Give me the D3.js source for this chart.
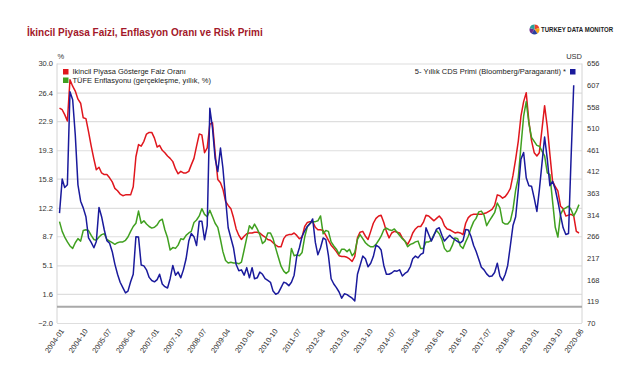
<!DOCTYPE html>
<html>
<head>
<meta charset="utf-8">
<script src="https://cdn.jsdelivr.net/npm/d3@7"></script>
<style>
	body { margin: 0; background: #fff; }
	svg { font-family: "Liberation Sans", Arial, sans-serif; }
</style>
</head>
<body>
<svg id="chart-plot" width="638" height="389" viewBox="0 0 638 389"></svg>
<script>

// monthly series, 2004-01 .. 2020-06
const start_month = new Date(2004, 0, 1);

// Ikincil Piyasa Gösterge Faiz Oranı (%)
const faiz = [
	24.5, 24.3, 23.7, 22.9, 28.0, 27.2, 26.6, 25.6, 25.1, 23.3,
	23.2, 21.6, 19.8, 18.2, 16.9, 17.2, 16.5, 16.3, 16.3, 15.9,
	15.4, 14.6, 14.3, 13.9, 13.7, 13.8, 13.8, 13.8, 14.8, 18.5,
	20.0, 19.8, 20.4, 21.3, 21.5, 21.5, 20.8, 19.7, 19.9, 19.3,
	19.0, 18.6, 18.3, 17.9, 17.0, 16.4, 16.7, 16.5, 16.5, 16.7,
	17.5, 18.3, 19.8, 21.3, 21.2, 19.0, 19.6, 22.5, 22.7, 19.0,
	15.7, 15.3, 14.5, 13.0, 12.5, 12.1, 11.0, 9.6, 8.8, 8.3,
	8.7, 9.0, 9.1, 9.1, 9.2, 9.2, 9.1, 8.8, 8.6, 8.3,
	8.2, 7.9, 7.6, 7.4, 7.4, 8.4, 8.8, 8.9, 8.9, 9.1,
	8.8, 8.4, 8.6, 9.9, 10.4, 10.5, 10.5, 9.8, 9.5, 9.5,
	9.4, 8.8, 8.2, 7.6, 7.2, 6.8, 6.3, 6.2, 6.2, 6.1,
	5.9, 5.6, 6.2, 8.5, 9.2, 9.3, 8.7, 8.3, 9.3, 10.3,
	10.9, 11.2, 11.3, 10.4, 9.3, 8.5, 9.1, 9.3, 9.2, 9.1,
	8.5, 8.1, 7.7, 8.3, 9.1, 9.6, 9.9, 9.9, 10.4, 11.3,
	11.2, 10.9, 10.6, 10.9, 11.2, 10.8, 10.0, 9.6, 9.5, 9.3,
	9.1, 9.2, 9.1, 8.9, 10.3, 11.0, 11.3, 11.4, 11.4, 11.4,
	11.4, 11.5, 11.6, 11.8, 12.0, 12.5, 13.8, 13.7, 13.4, 13.6,
	14.0, 14.6, 16.2, 18.2, 20.4, 23.5, 25.3, 26.4, 22.8, 20.5,
	19.0, 18.6, 19.0, 21.9, 24.8, 22.2, 18.8, 15.5, 14.8, 14.3,
	12.4, 12.1, 11.2, 11.3, 11.4, 11.2, 9.3, 9.1
];

// TÜFE Enflasyonu (gerçekleşme, yıllık, %)
const tufe = [
	10.5, 9.3, 8.6, 8.0, 7.5, 7.2, 7.9, 8.4, 8.1, 9.4,
	9.5, 9.4, 8.8, 8.3, 8.2, 8.6, 8.9, 9.0, 8.3, 8.1,
	7.9, 7.7, 7.9, 8.0, 8.0, 8.2, 8.6, 9.3, 9.9, 10.3,
	11.8, 10.3, 10.6, 10.2, 9.9, 9.7, 9.8, 10.1, 10.6, 10.8,
	9.5, 8.5, 7.0, 7.3, 7.2, 7.6, 8.4, 8.3, 8.8, 9.1,
	9.3, 10.4, 10.7, 11.2, 12.1, 11.4, 11.1, 11.9, 11.1, 10.3,
	9.8, 8.3, 6.8, 5.7, 5.4, 5.5, 5.4, 5.4, 5.3, 5.5,
	7.0, 8.5, 10.0, 9.6, 10.2, 9.6, 8.9, 7.8, 8.1, 9.1,
	9.1, 8.4, 7.2, 6.1, 5.0, 4.4, 4.1, 4.4, 7.2, 6.3,
	6.4, 6.3, 6.7, 8.6, 9.9, 10.3, 10.5, 10.5, 10.6, 11.2,
	9.0, 9.4, 9.3, 8.0, 7.5, 7.1, 6.5, 7.1, 7.1, 6.8,
	7.1, 6.3, 6.7, 8.3, 8.9, 8.4, 7.9, 7.6, 7.4, 7.4,
	7.7, 8.2, 8.7, 9.5, 9.7, 9.5, 9.4, 9.6, 9.2, 8.8,
	8.4, 8.1, 7.4, 7.7, 7.8, 8.0, 8.1, 7.2, 7.2, 8.0,
	8.0, 8.2, 8.9, 9.4, 9.0, 8.3, 7.2, 6.8, 6.9, 7.6,
	8.5, 8.4, 7.5, 7.2, 8.0, 8.7, 9.7, 10.5, 10.9, 11.7,
	11.8, 11.3, 10.0, 10.6, 11.1, 11.6, 12.8, 12.2, 10.4, 10.2,
	10.2, 10.6, 12.0, 14.4, 15.9, 19.8, 23.5, 25.3, 22.6, 20.9,
	20.4, 19.9, 19.8, 19.2, 18.6, 16.5, 16.3, 13.0, 9.8, 8.6,
	11.4, 12.0, 12.2, 12.4, 12.0, 11.2, 11.8, 12.6
];

// 5- Yıllık CDS Primi (USD), ends 2020-04
const cds = [
	318, 395, 376, 382, 592, 574, 495, 382, 345, 330,
	310, 262, 252, 240, 254, 331, 310, 280, 256, 250,
	231, 203, 180, 162, 150, 138, 142, 163, 180, 265,
	264, 201, 199, 190, 173, 166, 163, 168, 180, 158,
	152, 149, 170, 200, 178, 185, 172, 190, 215, 255,
	272, 265, 245, 300, 300, 258, 290, 555, 510, 442,
	412, 465, 420, 350, 285, 262, 240, 202, 188, 190,
	178, 195, 172, 195, 170, 172, 185, 180, 170, 166,
	162, 142, 135, 138, 150, 162, 160, 154, 162, 178,
	220, 240, 266, 278, 288, 294, 305, 252, 224, 240,
	262, 258, 222, 170, 158, 150, 140, 126, 136, 134,
	130, 126, 120, 180, 200, 221, 215, 197, 205, 220,
	246, 242, 235, 200, 180, 180, 183, 188, 187, 190,
	176, 182, 186, 197, 215, 221, 217, 225, 228, 285,
	270, 255, 268, 282, 285, 268, 255, 262, 268, 262,
	258, 254, 251, 256, 281, 280, 266, 245, 232, 214,
	196, 190, 181, 175, 176, 184, 205, 176, 166, 180,
	200, 245, 290, 310, 370, 440, 455, 398, 380, 379,
	352, 322, 370, 431, 490, 440, 380, 390, 372, 345,
	313, 285, 270, 272, 440, 607
];

const x_tick_labels = ["2004-01", "2004-10", "2005-07", "2006-04", "2007-01", "2007-10", "2008-07",
	"2009-04", "2010-01", "2010-10", "2011-07", "2012-04", "2013-01", "2013-10", "2014-07", "2015-04",
	"2016-01", "2016-10", "2017-07", "2018-04", "2019-01", "2019-10", "2020-06"];
const left_ticks = [-2.0, 1.6, 5.1, 8.7, 12.2, 15.8, 19.3, 22.9, 26.4, 30.0];
const right_ticks = [70, 119, 168, 217, 266, 314, 363, 412, 461, 510, 558, 607, 656];

const series = [
	{ name: "Ikincil Piyasa Gösterge Faiz Oranı", values: faiz, color: "#e0161d", axis: "left" },
	{ name: "TÜFE Enflasyonu (gerçekleşme, yıllık, %)", values: tufe, color: "#40a020", axis: "left" },
	{ name: "5- Yıllık CDS Primi (Bloomberg/Paragaranti) *", values: cds, color: "#1a1a9c", axis: "right" }
];

class ChartPlot {
	constructor(svg_element_id) {
		this.svg = d3.select('#' + svg_element_id);

		const plot = { left: 57, right: 582, top: 63.5, bottom: 323 };
		const label_color = "#333";
		const font_size = "7.5px";

		const month_of = i => d3.timeMonth.offset(start_month, i);

		const x = d3.scaleTime()
			.domain([month_of(0), month_of(faiz.length - 1)])
			.range([59.5, 579]);
		const y_left = d3.scaleLinear().domain([-2, 30]).range([plot.bottom, plot.top]);
		const y_right = d3.scaleLinear().domain([70, 656]).range([plot.bottom, plot.top]);

		// title
		this.svg.append("text")
			.attr("x", 27).attr("y", 35.5)
			.attr("font-size", "10px").attr("font-weight", "bold")
			.attr("fill", "#a3182a")
			.text("İkincil Piyasa Faizi, Enflasyon Oranı ve Risk Primi");

		// logo
		const logo = this.svg.append("g").attr("transform", "translate(534.5,29.5)");
		const pie = d3.pie().sort(null)([1, 1, 1, 1, 1]);
		const arc = d3.arc().innerRadius(0).outerRadius(5);
		const logo_colors = ["#e8412c", "#f2a516", "#2a3f9d", "#6a2c91", "#2aa198"];
		logo.selectAll("path").data(pie).enter().append("path")
			.attr("d", arc).attr("fill", (d, i) => logo_colors[i]);
		this.svg.append("text")
			.attr("x", 541).attr("y", 32.3)
			.attr("font-size", "6.6px").attr("font-weight", "bold")
			.attr("fill", "#222")
			.attr("textLength", 72).attr("lengthAdjust", "spacingAndGlyphs")
			.text("TURKEY DATA MONITOR");

		// gridlines
		this.svg.append("g")
			.attr("transform", `translate(${plot.left},0)`)
			.call(d3.axisLeft(y_left).tickValues(left_ticks).tickSize(-(plot.right - plot.left)).tickFormat(""))
			.call(g => g.select(".domain").remove())
			.call(g => g.selectAll("line").attr("stroke", "#dedede").attr("stroke-width", 1.2));

		// frame sides
		this.svg.append("g").selectAll("line")
			.data([plot.left, plot.right])
			.enter().append("line")
			.attr("x1", d => d).attr("x2", d => d)
			.attr("y1", plot.top).attr("y2", plot.bottom)
			.attr("stroke", "#d4d4d4").attr("stroke-width", 1);

		// zero line
		this.svg.append("line")
			.attr("x1", plot.left).attr("x2", plot.right)
			.attr("y1", y_left(0)).attr("y2", y_left(0))
			.attr("stroke", "#a9a9a9").attr("stroke-width", 2);

		// left axis
		this.svg.append("g")
			.attr("transform", `translate(${plot.left},0)`)
			.call(d3.axisLeft(y_left).tickValues(left_ticks).tickFormat(d3.format(".1f")).tickSize(0).tickPadding(4))
			.call(g => g.select(".domain").remove())
			.call(g => g.selectAll("text").attr("font-size", font_size).attr("fill", label_color).attr("font-family", null));

		// right axis
		this.svg.append("g")
			.attr("transform", `translate(${plot.right},0)`)
			.call(d3.axisRight(y_right).tickValues(right_ticks).tickFormat(d3.format("d")).tickSize(0).tickPadding(5))
			.call(g => g.select(".domain").remove())
			.call(g => g.selectAll("text").attr("font-size", font_size).attr("fill", label_color).attr("font-family", null));

		// unit labels
		this.svg.append("text").attr("x", 57.5).attr("y", 59)
			.attr("font-size", font_size).attr("fill", label_color).text("%");
		this.svg.append("text").attr("x", 582).attr("y", 59.3).attr("text-anchor", "end")
			.attr("font-size", font_size).attr("fill", label_color).text("USD");

		// x axis
		const parse_month = d3.timeParse("%Y-%m");
		this.svg.append("g")
			.attr("transform", `translate(0,${plot.bottom})`)
			.call(d3.axisBottom(x).tickValues(x_tick_labels.map(parse_month)).tickFormat(d3.timeFormat("%Y-%m")).tickSize(0))
			.call(g => g.select(".domain").remove())
			.call(g => g.selectAll("text")
				.attr("font-size", font_size).attr("fill", label_color).attr("font-family", null)
				.attr("x", 0).attr("y", 0).attr("dy", null)
				.attr("text-anchor", "end")
				.attr("transform", "translate(4.5,8) rotate(-55)"));

		// lines
		series.forEach(s => {
			const y = s.axis === "left" ? y_left : y_right;
			const line = d3.line()
				.x((d, i) => x(month_of(i)))
				.y(d => y(d));
			this.svg.append("path")
				.datum(s.values)
				.attr("d", line)
				.attr("fill", "none")
				.attr("stroke", s.color)
				.attr("stroke-width", 1.5)
				.attr("stroke-linejoin", "round");
		});

		// legend
		const legend_left = this.svg.append("g").selectAll("g")
			.data(series.filter(s => s.axis === "left"))
			.enter().append("g")
			.attr("transform", (d, i) => `translate(63,${69 + i * 8.5})`);
		legend_left.append("rect").attr("width", 5.5).attr("height", 5.5).attr("fill", d => d.color);
		legend_left.append("text").attr("x", 9.5).attr("y", 5.3)
			.attr("font-size", font_size).attr("fill", "#222").text(d => d.name);

		const legend_right = this.svg.append("g").selectAll("g")
			.data(series.filter(s => s.axis === "right"))
			.enter().append("g")
			.attr("transform", "translate(570,69)");
		legend_right.append("rect").attr("width", 5.5).attr("height", 5.5).attr("fill", d => d.color);
		legend_right.append("text").attr("x", -4).attr("y", 5.3).attr("text-anchor", "end")
			.attr("font-size", font_size).attr("fill", "#222").text(d => d.name);
	}
}

function whenDocumentLoaded(action) {
	if (document.readyState === "loading") {
		document.addEventListener("DOMContentLoaded", action);
	} else {
		action();
	}
}

whenDocumentLoaded(() => {
	plot_object = new ChartPlot('chart-plot');
});
</script>
</body>
</html>
